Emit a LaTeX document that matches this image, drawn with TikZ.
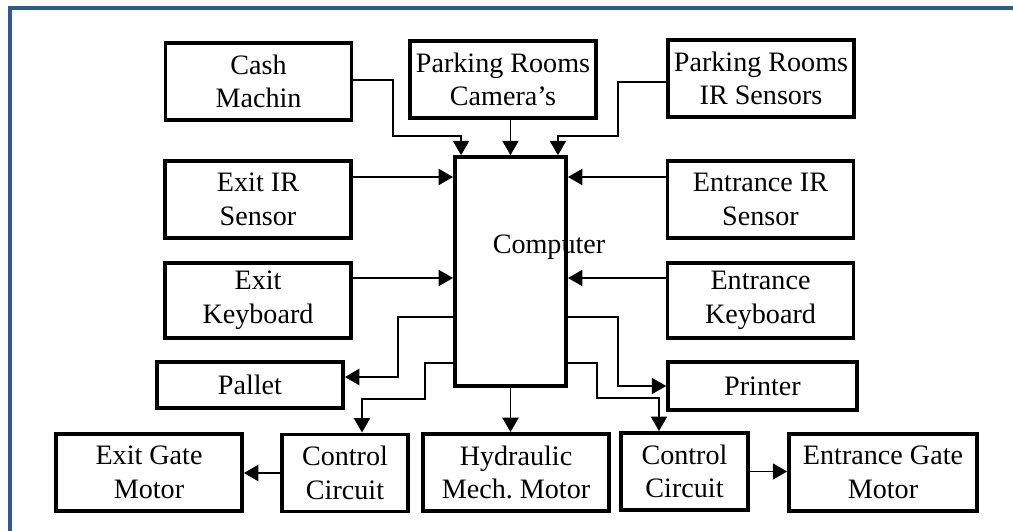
\documentclass[tikz,border=0pt]{standalone}
\usepackage{fontspec}
\setmainfont{Liberation Serif}
\usetikzlibrary{arrows.meta,calc}
\definecolor{framecol}{RGB}{46,92,138}

\begin{document}
\frenchspacing
\begin{tikzpicture}[
    x=0.025cm, y=-0.025cm,
    >={Triangle[length=0.36cm,width=0.4cm]},
    box/.style={
        draw,
        line width=2.6pt,
        minimum height=1.93cm,
        minimum width=4.65cm,
        inner sep=1pt,
        align=center,
        font=\fontsize{20}{24}\selectfont
    },
    arr/.style={->, line width=1.4pt}
]

\useasboundingbox (0,0) rectangle (1013,531);
\draw[framecol, line width=2.2pt] (10,531) -- (10,8) -- (1013,8);

% inputs
\node[box] (cash) at (258.5,81.5) {Cash\\Machin};
\node[box] (cam) at (503,79.5) {Parking Rooms\\Camera's};
\node[box] (irs) at (761,78.5) {Parking Rooms\\IR Sensors};
\node[box] (exitir) at (258,199.5) {Exit IR\\Sensor};
\node[box] (entir) at (760.5,199.5) {Entrance IR\\Sensor};
\node[box, minimum height=1.88cm] (exitkb) at (258,300.5) {Exit\\Keyboard};
\node[box, minimum height=1.88cm] (entkb) at (760.5,300.5) {Entrance\\Keyboard};

% computer
\node[box, minimum width=2.78cm, minimum height=5.72cm] (comp) at (510.5,271.5) {};
\node[font=\fontsize{20}{24}\selectfont] (comptxt) at (549,247) {Computer};

% outputs
\node[box, minimum height=1.15cm] (pallet) at (250,385) {Pallet};
\node[box, minimum width=4.72cm, minimum height=1.2cm] (printer) at (762.5,386) {Printer};
\node[box] (exitgm) at (149,472.5) {Exit Gate\\Motor};
\node[box, minimum width=3.15cm] (ctrll) at (345,473) {Control\\Circuit};
\node[box] (hyd) at (516,472.5) {Hydraulic\\Mech. Motor};
\node[box, minimum width=3.17cm] (ctrlr) at (684.5,471.5) {Control\\Circuit};
\node[box, minimum width=4.7cm] (entgm) at (883,472.5) {Entrance Gate\\Motor};

\draw[arr] (cash.east |- 0,80) -| (393,136) -| ($(comp.north west)+(8,0)$);
\draw[arr] (comp.north |- cam.south) -- (comp.north);
\draw[arr] (irs.west |- 0,82) -| (618,136) -| ($(comp.north east)+(-10,0)$);
\draw[arr] (exitir.east |- 0,177) -- (comp.west |- 0,177);
\draw[arr] (entir.west |- 0,177) -- (comp.east |- 0,177);
\draw[arr] (exitkb.east |- 0,278) -- (comp.west |- 0,278);
\draw[arr] (entkb.west |- 0,278) -- (comp.east |- 0,278);

\draw[arr] (comp.west |- 0,317) -| (398,377) -- (pallet.east |- 0,377);
\draw[arr] (comp.west |- 0,363) -| (425,399) -| (ctrll.north -| 362,0);
\draw[arr] (comp.south) -- (comp.south |- hyd.north);
\draw[arr] (comp.east |- 0,317) -| (618,386) -- (printer.west);
\draw[arr] (comp.east |- 0,363) -| (597,398) -| (ctrlr.north -| 659,0);
\draw[arr] (ctrll.west) -- (ctrll.west -| exitgm.east);
\draw[arr] (ctrlr.east) -- (ctrlr.east -| entgm.west);

\end{tikzpicture}
\end{document}
